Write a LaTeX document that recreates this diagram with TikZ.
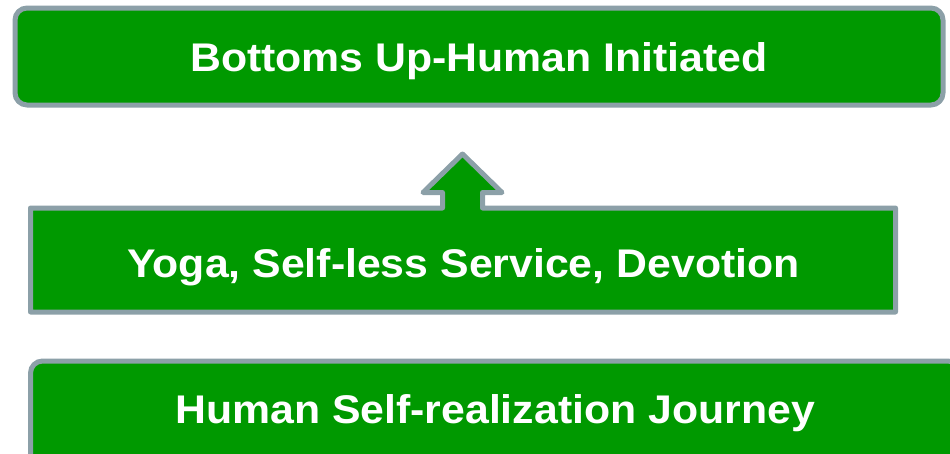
\documentclass[tikz,border=0pt]{standalone}
\usepackage{fontspec}
\setmainfont{Liberation Sans}[FakeStretch=1.07]
\definecolor{boxgreen}{RGB}{0,153,0}
\definecolor{boxedge}{RGB}{140,160,168}
\tikzset{
  panel/.style={draw=boxedge, fill=boxgreen, line width=5pt, line join=round},
  roundpanel/.style={panel, rounded corners=12pt},
  caption/.style={text=white, font=\bfseries\fontsize{40}{48}\selectfont, anchor=base, inner sep=0pt},
}
\begin{document}
\begin{tikzpicture}[x=1pt, y=-1pt]
  \useasboundingbox (0,0) rectangle (950,453);
  \clip (0,0) rectangle (950,453);

  % top banner
  \draw[roundpanel] (15,8) rectangle (943,105);
  \node[caption] (top) at (479,71.5) {Bottoms Up-Human Initiated};

  % middle panel with the upward arrow on its top edge
  \draw[panel] (30.5,208) -- (442.5,208) -- (442.5,192.5) -- (423,192.5)
    -- (462.5,154) -- (502,192.5) -- (482.5,192.5) -- (482.5,208)
    -- (895.5,208) -- (895.5,312) -- (30.5,312) -- cycle;
  \node[caption] (mid) at (463.5,277) {Yoga, Self-less Service, Devotion};

  % bottom banner, running past the page edge
  \draw[roundpanel] (30.5,361) rectangle (960,480);
  \node[caption] (bot) at (495,423) {Human Self-realization Journey};
\end{tikzpicture}
\end{document}
